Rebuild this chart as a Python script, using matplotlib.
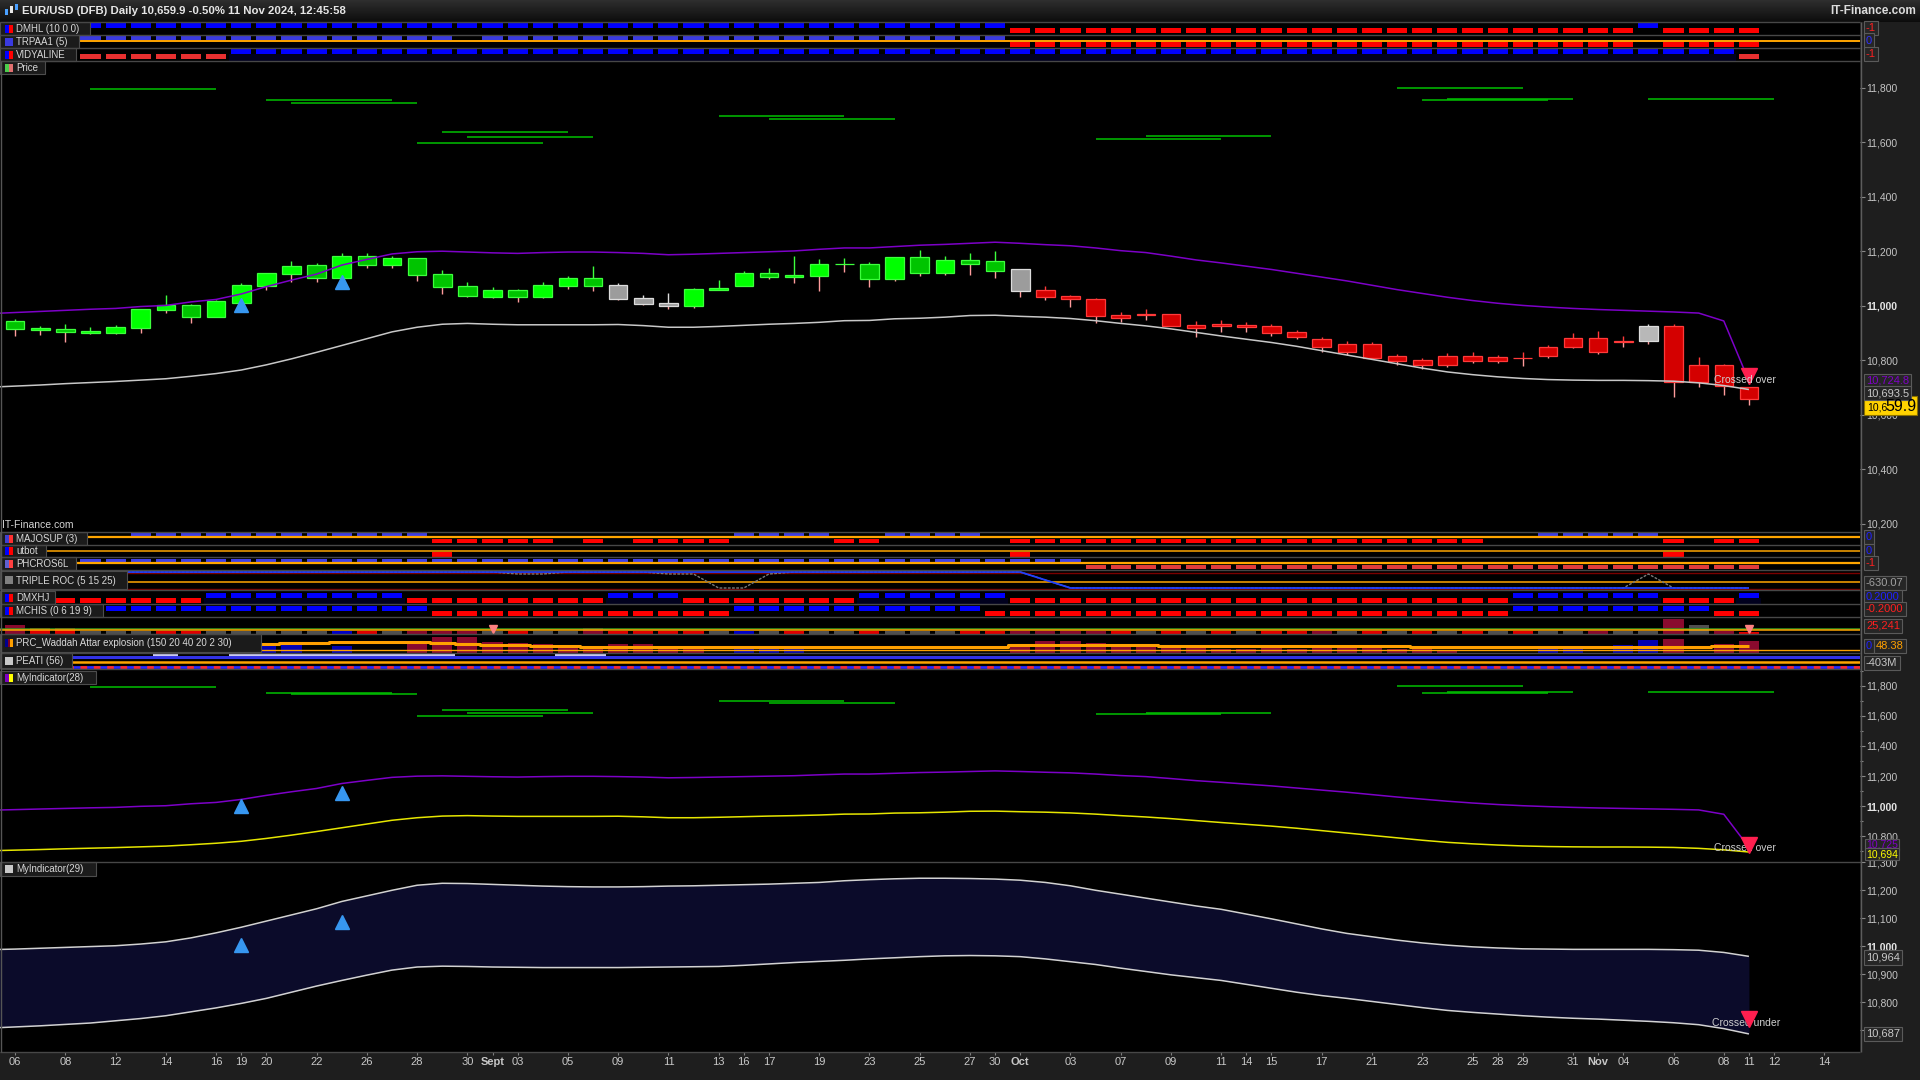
import numpy as np
import matplotlib
matplotlib.use("Agg")
import matplotlib.pyplot as plt
from matplotlib.patches import Rectangle
from matplotlib import font_manager

W, H = 1920, 1080
PLOT_R = 1860            # right edge of the plotting area (px)
XLIM = (-0.6, 73.42)     # bar index range, room to the right up to 14 Nov

NAMES = {f.name for f in font_manager.fontManager.ttflist}
NARROW = "Liberation Sans Narrow" if "Liberation Sans Narrow" in NAMES else "Liberation Sans"
plt.rcParams["font.family"] = ["Liberation Sans", "DejaVu Sans"]
plt.rcParams["lines.solid_capstyle"] = "butt"

# ---- price data (EUR/USD DFB daily, 6 Aug .. 11 Nov 2024) ----------------
opens = [10945, 10913, 10916, 10902, 10902, 10921, 10987, 11004, 10961, 11012,
         11075, 11119, 11150, 11104, 11183, 11152, 11175, 11117, 11073, 11034,
         11059, 11034, 11075, 11103, 11076, 11028, 11011, 11001, 11060, 11075,
         11121, 11108, 11111, 11153, 11154, 11100, 11180, 11122, 11169, 11165,
         11136, 11059, 11035, 11024, 10966, 10968, 10969, 10929, 10935, 10930,
         10928, 10905, 10880, 10830, 10862, 10815, 10800, 10782, 10815, 10797,
         10810, 10815, 10850, 10882, 10866, 10872, 10928, 10720, 10783, 10702]
highs = [10951, 10927, 10934, 10923, 10930, 10990, 11040, 11007, 11022, 11083,
         11121, 11165, 11158, 11195, 11195, 11183, 11175, 11132, 11088, 11069,
         11062, 11087, 11110, 11147, 11086, 11040, 11048, 11067, 11095, 11128,
         11141, 11183, 11173, 11176, 11162, 11180, 11205, 11183, 11195, 11202,
         11136, 11075, 11040, 11028, 10978, 10989, 10969, 10945, 10950, 10940,
         10935, 10912, 10885, 10870, 10868, 10825, 10808, 10828, 10830, 10820,
         10830, 10858, 10900, 10908, 10890, 10935, 10935, 10812, 10787, 10702]
lows = [10890, 10894, 10869, 10898, 10897, 10902, 10976, 10939, 10961, 11010,
        11059, 11089, 11089, 11104, 11141, 11141, 11092, 11045, 11034, 11030,
        11016, 11030, 11064, 11056, 11022, 11004, 10989, 10994, 11060, 11075,
        11100, 11086, 11056, 11126, 11071, 11093, 11111, 11115, 11115, 11104,
        11034, 11022, 10998, 10939, 10943, 10949, 10925, 10887, 10905, 10905,
        10890, 10878, 10830, 10820, 10805, 10785, 10770, 10775, 10790, 10790,
        10780, 10808, 10845, 10822, 10850, 10860, 10667, 10704, 10673, 10638]
closes = [10917, 10919, 10906, 10910, 10923, 10989, 11004, 10961, 11018, 11077,
          11121, 11147, 11104, 11183, 11152, 11176, 11115, 11071, 11038, 11059,
          11034, 11077, 11103, 11075, 11027, 11009, 11001, 11062, 11066, 11121,
          11108, 11114, 11154, 11155, 11100, 11180, 11122, 11169, 11155, 11130,
          11056, 11034, 11024, 10965, 10957, 10970, 10928, 10920, 10925, 10922,
          10901, 10888, 10848, 10862, 10810, 10798, 10782, 10818, 10797, 10812,
          10808, 10850, 10882, 10830, 10872, 10925, 10720, 10783, 10706, 10659.9]
# candle colouring by trend: g = green, x = grey, r = red
tone = "g" * 24 + "x" * 3 + "g" * 13 + "x" + "r" * 24 + "x" + "r" * 4

# band lines start one bar earlier (5 Aug, at the left edge of the chart)
upper_band = [10972,
              10976, 10980, 10984, 10988, 10991, 10998, 11002, 11015, 11024, 11044,
              11071, 11095, 11117, 11150, 11171, 11191, 11199, 11201, 11198, 11195,
              11193, 11196, 11198, 11198, 11196, 11193, 11188, 11190, 11193, 11196,
              11199, 11202, 11208, 11213, 11213, 11218, 11223, 11226, 11230, 11234,
              11230, 11225, 11221, 11213, 11203, 11196, 11183, 11169, 11158, 11146,
              11134, 11120, 11106, 11092, 11076, 11060, 11046, 11032, 11020, 11010,
              11002, 10996, 10991, 10987, 10984, 10981, 10978, 10974, 10945, 10724.8]
lower_band = [10702,
              10706, 10710, 10715, 10719, 10723, 10728, 10733, 10742, 10752, 10765,
              10784, 10806, 10830, 10855, 10880, 10905, 10922, 10933, 10936, 10933,
              10931, 10931, 10931, 10931, 10932, 10928, 10922, 10922, 10925, 10929,
              10933, 10936, 10940, 10946, 10947, 10953, 10955, 10959, 10965, 10966,
              10962, 10959, 10954, 10946, 10936, 10927, 10916, 10903, 10890, 10878,
              10866, 10852, 10836, 10820, 10804, 10788, 10772, 10758, 10748, 10740,
              10734, 10730, 10728, 10727, 10727, 10726, 10724, 10718, 10708, 10693.5]
band29_up = [10988,
             10990, 10993, 10996, 10999, 11002, 11008, 11016, 11030, 11048, 11068,
             11090, 11112, 11134, 11160, 11180, 11200, 11218, 11225, 11224, 11221,
             11218, 11215, 11213, 11212, 11212, 11213, 11215, 11216, 11218, 11220,
             11222, 11225, 11228, 11234, 11238, 11241, 11243, 11243, 11242, 11240,
             11236, 11228, 11216, 11200, 11186, 11172, 11158, 11144, 11132, 11115,
             11098, 11080, 11062, 11046, 11034, 11022, 11012, 11004, 10998, 10994,
             10991, 10990, 10989, 10989, 10989, 10989, 10988, 10986, 10978, 10964]
band29_lo = [10708,
             10712, 10716, 10721, 10726, 10734, 10742, 10752, 10766, 10780, 10796,
             10814, 10836, 10858, 10878, 10897, 10915, 10926, 10929, 10928, 10926,
             10925, 10924, 10924, 10924, 10924, 10925, 10926, 10927, 10928, 10932,
             10937, 10942, 10946, 10950, 10955, 10959, 10963, 10966, 10967, 10966,
             10963, 10955, 10945, 10935, 10922, 10910, 10898, 10888, 10878, 10864,
             10850, 10836, 10824, 10814, 10803, 10792, 10781, 10771, 10764, 10758,
             10752, 10747, 10743, 10740, 10736, 10732, 10727, 10720, 10706, 10687]

# green resistance segments: first bar and level (each spans 5 bars)
green_start = [3, 10, 11, 16, 17, 18, 28, 30, 43, 45, 55, 56, 57, 65]
green_level = [11795, 11755, 11745, 11598, 11638, 11620, 11697, 11686,
               11611, 11622, 11800, 11755, 11760, 11760]
arrow_up_idx = [9, 13]
arrow_up_val = [11003, 11088]
arrow_dn_idx = [69]
arrow_dn_val = [10742]

# ---- indicator states: B = blue/up, R = red/down, . = none ----------------
dmhl = "B" * 40 + "R" * 25 + "B" + "R" * 4
trpaa1 = "B" * 18 + "." + "B" * 21 + "R" * 25 + "." + "R" * 4
vidyaline = "R" * 9 + "B" * 60 + "R"
majosup = ("." * 5 + "B" * 12 + "R" * 5 + "." + "R" + "." + "R" * 4 + "B" * 4 + "R" * 2
           + "B" * 4 + "." + "R" * 19 + "." * 2 + "B" * 5 + "R" + "." + "R" * 2)
utbot = "." * 17 + "R" + "." * 22 + "R" + "." * 25 + "R" + "." * 3
phcros6l = "B" * 43 + "R" * 27
dmxhj = "R" * 8 + "B" * 8 + "R" * 8 + "B" * 3 + "R" * 7 + "B" * 6 + "R" * 20 + "B" * 6 + "R" * 3 + "B"
mchis = "B" * 17 + "R" * 12 + "B" * 10 + "R" * 21 + "B" * 8 + "R" * 2

# TRIPLE ROC lines (panel units)
tri_blue = [18] * 41 + [10] + [2] * 28
tri_gray = [18] * 20 + [16, 16] + [18] * 4 + [16, 16, 2, 2, 16] + [18] * 10 + [10] + [2] * 23 + [16] + [2] * 4

# unnamed histogram panel
hist_c = "drrgggrrgg" "gggbrgdddg" "rggdrrrrgb" "grggrgggrr" "ddddrgrgrg" "rrdgrgrgrg" "rggdggdgdr"
hist_h = [9, 6, 6, 3, 3, 3, 3, 3, 3, 3, 3, 3, 3, 3, 3, 3, 3, 3, 3, 3,
          3, 3, 3, 6, 3, 3, 3, 3, 3, 3, 3, 3, 3, 3, 3, 3, 3, 3, 3, 3,
          3, 3, 3, 3, 3, 3, 3, 3, 3, 3, 3, 3, 3, 3, 3, 3, 3, 3, 3, 3,
          3, 3, 3, 3, 3, 3, 15, 9, 3, 2]
hist_mark_idx = [19, 69]

# Waddah Attar explosion
wae_up = [0, 0, 0, 0, 0, 0, 0, 0, 0, 0, 7, 8, 0, 7, 0, 0, 0, 0, 0, 0,
          0, 0, 0, 0, 0, 0, 0, 0, 0, 4, 5, 4, 0, 0, 0, 0, 0, 0, 0, 0,
          0, 0, 0, 0, 0, 0, 0, 0, 0, 0, 0, 0, 0, 0, 0, 0, 0, 0, 0, 0,
          0, 4, 5, 0, 8, 13, 0, 0, 0, 0]
wae_dn = [0, 0, 0, 0, 0, 0, 0, 0, 0, 0, 0, 0, 0, 0, 0, 0, 10, 16, 16, 11,
          10, 9, 5, 5, 9, 9, 6, 5, 0, 0, 0, 0, 0, 0, 0, 0, 0, 0, 0, 0,
          8, 12, 12, 10, 8, 6, 5, 5, 4, 4, 5, 4, 6, 5, 5, 4, 4, 3, 0, 0,
          0, 0, 0, 0, 0, 0, 14, 0, 9, 12]
wae_line = [9, 9, 9, 9, 9, 9, 9, 9, 9, 9, 9, 10, 10, 11, 11, 11, 11, 10, 9, 8,
            8, 7, 7, 6, 6, 6, 6, 6, 6, 6, 6, 6, 6, 6, 6, 6, 6, 6, 6, 6,
            8, 8, 8, 8, 8, 8, 7, 7, 7, 7, 7, 7, 7, 7, 7, 7, 6, 6, 6, 6,
            6, 6, 6, 6, 6, 6, 6, 6, 7, 7]
peati_lite = [6, 9, 10, 11, 12, 13, 14, 15, 16, 17, 22, 23]

# x axis
xtick_idx = [0, 2, 4, 6, 8, 9, 10, 12, 14, 16, 18, 19, 20, 22, 24, 26, 28, 29, 30, 32,
             34, 36, 38, 39, 40, 42, 44, 46, 48, 49, 50, 52, 54, 56, 58, 59, 60, 62, 63, 64,
             66, 68, 69, 70, 72]
xtick_lbl = ["06", "08", "12", "14", "16", "19", "20", "22", "26", "28",
             "30", "Sept", "03", "05", "09", "11", "13", "16", "17", "19",
             "23", "25", "27", "30", "Oct", "03", "07", "09", "11", "14",
             "15", "17", "21", "23", "25", "28", "29", "31", "Nov", "04",
             "06", "08", "11", "12", "14"]

x = np.arange(len(closes))
xb = np.arange(-1, len(closes))     # x for the band lines

fig = plt.figure(figsize=(W / 100, H / 100), dpi=100, facecolor="black")

# background: header gradient, right scale strip, bottom date strip
bg = fig.add_axes([0, 0, 1, 1], zorder=-5)
bg.imshow(np.linspace(0.18, 0.05, 22)[:, None], extent=(0, W, 22, 0),
          cmap="gray", vmin=0, vmax=1, aspect="auto")
bg.add_patch(Rectangle((PLOT_R, 22), W - PLOT_R, H - 22, fc="#1e1e1e", ec="none"))
bg.add_patch(Rectangle((0, 1052), PLOT_R, H - 1052, fc="#1e1e1e", ec="none"))
bg.set_xlim(0, W)
bg.set_ylim(H, 0)
bg.axis("off")


def panel(top, bottom, ylim):
    ax = fig.add_axes([0, 1 - bottom / H, PLOT_R / W, (bottom - top) / H])
    ax.set_facecolor("black")
    ax.set_xlim(*XLIM)
    ax.set_ylim(*ylim)
    for s in ax.spines.values():
        s.set_visible(False)
    ax.set_xticks([])
    ax.set_yticks([])
    return ax


def state_row(ax, states, up_span, dn_span, up_color, dn_color, navy=None):
    xu = [i for i, s in enumerate(states) if s == "B"]
    xd = [i for i, s in enumerate(states) if s == "R"]
    if navy:
        ax.bar(xu, navy[1] - navy[0], bottom=navy[0], width=1.0, color="#00001e")
    ax.bar(xu, up_span[1] - up_span[0], bottom=up_span[0], width=0.8, color=up_color)
    ax.bar(xd, dn_span[1] - dn_span[0], bottom=dn_span[0], width=0.8, color=dn_color)


def right_ticks(ax, major, minor=None):
    ax.yaxis.tick_right()
    ax.set_yticks(major, [f"{v:,}" for v in major])
    if minor is not None:
        ax.set_yticks(minor, minor=True)
    ax.tick_params(axis="y", which="both", right=True, left=False, labelright=True,
                   labelleft=False, colors="#8a8a8a", labelcolor="#c4c4c4",
                   length=3.5, pad=1, labelsize=7.5, width=0.8)
    ax.tick_params(axis="y", which="minor", length=2)
    for lab in ax.get_yticklabels():
        if lab.get_text() == "11,000":
            lab.set_fontweight("bold")
            lab.set_color("#e4e4e4")


# ---- top state rows ----
ax = panel(22, 35, (0, 13))
state_row(ax, dmhl, (7.3, 12), (2, 7), "#0000ff", "#ff0000")
ax = panel(35, 48, (0, 13))
state_row(ax, trpaa1, (8, 12.3), (1.3, 6), "#3a3ae0", "#ff0000")
ax.axhline(7.3, color="#ffa500", lw=1.4)
ax = panel(48, 61, (0, 13))
state_row(ax, vidyaline, (7.3, 12), (1.7, 7), "#0000ff", "#e83030", navy=(0.5, 7.3))

# ---- price panel ----
price = panel(61, 532, (10170.6, 11899))
o, h, l, c = (np.array(v, dtype=float) for v in (opens, highs, lows, closes))
fills, edges = [], []
for t, oo, cc in zip(tone, o, c):
    up = cc >= oo
    if t == "g":
        fills.append("#00ff00" if up else "#00c400")
        edges.append("#3dff3d")
    elif t == "x":
        fills.append("#b8b8b8" if up else "#9c9c9c")
        edges.append("#dcdcdc")
    else:
        fills.append("#d40000")
        edges.append("#ff3a3a")
body_lo = np.minimum(o, c)
body_hi = np.maximum(o, c)
price.vlines(x, body_hi, h, colors=edges, lw=1, zorder=2)
price.vlines(x, l, body_lo, colors="#ff9c9c", lw=1, zorder=2)
price.bar(x, np.maximum(body_hi - body_lo, 1.5), bottom=body_lo, width=0.74,
          color=fills, edgecolor=edges, linewidth=0.9, zorder=3)
price.hlines(green_level, green_start, np.add(green_start, 5), colors="#00c000", lw=1.1)
price.plot(xb, upper_band, color="#7d00c8", lw=1.1, zorder=4)
price.plot(xb, lower_band, color="#c8c8c8", lw=1.1, zorder=4)
price.plot(arrow_up_idx, arrow_up_val, "^", color="#3797f0", ms=9.5, zorder=6)
price.plot(arrow_dn_idx, arrow_dn_val, "v", color="#ff1f4f", ms=11, zorder=6)
price.annotate("Crossed over", (arrow_dn_idx[0], arrow_dn_val[0]), xytext=(-25.5, -2.5),
               textcoords="offset points", color="#d0d0d0", fontsize=7.5,
               ha="left", va="center", zorder=7)
right_ticks(price, list(range(10200, 11801, 200)))

# ---- middle indicator rows ----
ax = panel(532, 545, (0, 13))
state_row(ax, majosup, (8.3, 11.7), (2, 6), "#3c3ce6", "#ff0000")
ax.axhline(7.7, color="#ffa500", lw=1.6)
ax = panel(545, 557, (0, 12))
state_row(ax, utbot, (6.5, 11), (0, 5), "#0000ff", "#ff0000")
ax.axhline(5.7, color="#ffa500", lw=1.1)
ax = panel(557, 570, (0, 13))
state_row(ax, phcros6l, (7.7, 11), (0.7, 5), "#4040e8", "#e03c3c")
ax.axhline(6.7, color="#ffa500", lw=1.6)

tri = panel(570, 590, (0, 20))
tri.axhline(17, color="#7a0000", lw=1)
tri.axhline(1, color="#7a0000", lw=1)
tri.axhline(8.3, color="#ffa500", lw=1.1)
tri.plot(x, tri_gray, color="#7a7a7a", lw=1, ls=(0, (2, 1)))
tri.plot(x, tri_blue, color="#2040ff", lw=1.3)

ax = panel(590, 604, (0, 14))
state_row(ax, dmxhj, (6.3, 10.7), (0.7, 5.7), "#0000ff", "#ff0000", navy=(0, 6.3))
ax = panel(604, 617, (0, 13))
state_row(ax, mchis, (6, 11), (1, 6), "#0000ff", "#ff0000")

hist = panel(617, 634, (0, 17))
hist_colors = {"d": "#8a0a2e", "r": "#e00000", "g": "#505050", "b": "#0000c8"}
hist.bar(x, hist_h, width=0.8, color=[hist_colors[k] for k in hist_c])
hist.axhline(5, color="#3c9a1e", lw=1.1)
hist.axhline(4, color="#ffa500", lw=1.1)
hist.plot(hist_mark_idx, [5] * len(hist_mark_idx), "v", color="#ff8080", ms=6)

wae = panel(634, 653, (0, 19))
wae.bar(x, wae_dn, width=0.8, color="#8a0a2e")
wae.bar(x, wae_up, width=0.8, color="#0000b4")
wae.plot(x, wae_line, color="#ffa000", lw=2.2, drawstyle="steps-mid")
wae.axhline(3, color="#ffa000", lw=1)

peati = panel(653, 669, (0, 16))
peati.axhline(12.5, color="#3232e6", lw=2.2)
peati.hlines([14] * len(peati_lite), np.array(peati_lite) - 0.5,
             np.array(peati_lite) + 0.5, colors="#c8c8f0", lw=1.5)
peati.axhline(7.3, color="#ffa500", lw=1.8)
peati.axhline(2.5, color="#2a2aff", lw=2)
peati.axhline(2.5, color="#ff2a2a", lw=2, ls=(0, (2.4, 2.4)))

# ---- MyIndicator(28) ----
m28 = panel(669, 862, (10627, 11913))
m28.hlines(green_level, green_start, np.add(green_start, 5), colors="#00c000", lw=1.1)
m28.plot(xb, upper_band, color="#7d00c8", lw=1.1)
m28.plot(xb, lower_band, color="#e6e600", lw=1.1)
m28.plot(arrow_up_idx, arrow_up_val, "^", color="#3797f0", ms=9.5, zorder=6)
m28.plot(arrow_dn_idx, arrow_dn_val, "v", color="#ff1f4f", ms=11, zorder=6)
m28.annotate("Crossed over", (arrow_dn_idx[0], arrow_dn_val[0]), xytext=(-25.5, -2),
             textcoords="offset points", color="#d0d0d0", fontsize=7.5,
             ha="left", va="center")
right_ticks(m28, list(range(10800, 11801, 200)), list(range(10700, 11901, 100)))

# ---- MyIndicator(29) ----
m29 = panel(862, 1052, (10622.5, 11301))
m29.fill_between(xb, band29_lo, band29_up, color="#0b0b2a", lw=0)
m29.plot(xb, band29_up, color="#d2d2d2", lw=1.1)
m29.plot(xb, band29_lo, color="#d2d2d2", lw=1.1)
m29.plot(arrow_up_idx, arrow_up_val, "^", color="#3797f0", ms=9.5, zorder=6)
m29.plot(arrow_dn_idx, arrow_dn_val, "v", color="#ff1f4f", ms=11, zorder=6)
m29.annotate("Crossed under", (arrow_dn_idx[0], arrow_dn_val[0]), xytext=(-26.5, -3),
             textcoords="offset points", color="#d0d0d0", fontsize=7.5,
             ha="left", va="center")
right_ticks(m29, list(range(10700, 11301, 100)))
m29.set_xticks(xtick_idx, xtick_lbl)
m29.tick_params(axis="x", bottom=True, length=2.5, pad=0.8, colors="#808080",
                labelcolor="#c8c8c8", labelsize=8)
for lab in m29.get_xticklabels():
    lab.set_fontfamily([NARROW, "DejaVu Sans"])
    if lab.get_text() in ("Sept", "Oct", "Nov"):
        lab.set_fontweight("bold")

# ---- overlay: header, separators, tags, value boxes ----
ov = fig.add_axes([0, 0, 1, 1], zorder=10)
ov.set_xlim(0, W)
ov.set_ylim(H, 0)
ov.axis("off")
ov.patch.set_visible(False)


def py(ax, v):
    return H - ax.transData.transform((0, v))[1]


ov.add_patch(Rectangle((5, 9), 3, 6, fc="#4aa0ff", ec="none"))
ov.add_patch(Rectangle((10, 6), 3, 7, fc="#e8e8e8", ec="none"))
ov.add_patch(Rectangle((15, 4), 3, 6, fc="#4aa0ff", ec="none"))
ov.text(22, 11.5, "EUR/USD (DFB) Daily 10,659.9 -0.50% 11 Nov 2024, 12:45:58",
        color="#e6e6e6", fontsize=8.2, fontweight="bold", va="center", ha="left")
ov.text(1916, 11.5, "IT-Finance.com", color="#dcdcdc", fontsize=8.5,
        fontweight="bold", va="center", ha="right")
ov.text(2, 524.5, "IT-Finance.com", color="#d4d4d4", fontsize=7.5, va="center", ha="left")

ov.hlines([21.5, 34.5, 47.5, 60.5, 531.5, 544.5, 556.5, 569.5, 589.5, 603.5, 616.5,
           633.5, 652.5, 668.5, 861.5, 1051.5], 0, PLOT_R, colors="#474747", lw=1)
ov.vlines(PLOT_R + 0.5, 22, 1052, colors="#5c5c5c", lw=1)
ov.vlines(0.5, 61, 1052, colors="#555555", lw=1)

tags = [
    ("DMHL (10 0 0)", 22, 35, 90, ["#0000ff", "#ff0000"]),
    ("TRPAA1 (5)", 35, 48, 79, ["#3a3ae0"]),
    ("VIDYALINE", 48, 61, 76, ["#0000ff", "#ff0000"]),
    ("Price", 61, 74, 45, ["#4ccd4c", "#e07070"]),
    ("MAJOSUP (3)", 532, 545, 87, ["#4040d0", "#ff3030"]),
    ("utbot", 545, 557, 46, ["#0000ff", "#ff0000"]),
    ("PHCROS6L", 557, 570, 76, ["#6060d0", "#ff4040"]),
    ("TRIPLE ROC (5 15 25)", 571, 589, 127, ["#808080"]),
    ("DMXHJ", 591, 604, 55, ["#0000ff", "#ff0000"]),
    ("MCHIS (0 6 19 9)", 604, 617, 103, ["#0000ff", "#ff0000"]),
    ("PRC_Waddah Attar explosion (150 20 40 20 2 30)", 634, 652, 261,
     ["#000090", "#800020", "#ffa000"]),
    ("PEATI (56)", 653, 668, 72, ["#c8c8c8"]),
    ("MyIndicator(28)", 671, 684, 96, ["#8000c0", "#ffff00"]),
    ("MyIndicator(29)", 862, 876, 96, ["#c8c8c8"]),
]
for text, y0, y1, w, cols in tags:
    ov.add_patch(Rectangle((0, y0), w, y1 - y0, fc="#1b1b1b", ec="#4d4d4d", lw=0.8))
    ym = (y0 + y1) / 2
    cw = 8 / len(cols)
    for k, col in enumerate(cols):
        ov.add_patch(Rectangle((5 + k * cw, ym - 4), cw, 8, fc=col, ec="none"))
    ov.text(16, ym + 0.5, text, color="#d8d8d8", fontsize=7, va="center", ha="left")

box = dict(boxstyle="square,pad=0.2", fc="#262626", ec="#5a5a5a", lw=0.8)
small_box = dict(boxstyle="square,pad=0.12", fc="#262626", ec="#5a5a5a", lw=0.8)
right_tags = [("-1", 28, "#ff2020"), ("0", 40.5, "#3030ff"), ("-1", 54, "#ff2020"),
              ("0", 537, "#2020ff"), ("0", 551, "#2020ff"), ("-1", 563, "#ff2020"),
              ("-630.07", 583, "#a0a0a0"), ("0.2000", 597, "#2020ff"),
              ("-0.2000", 609, "#ff2020"), ("25,241", 626, "#ff2020"),
              ("0", 646, "#2020ff"), ("-403M", 663, "#c8c8c8")]
for text, y, col in right_tags:
    ov.text(1866, y, text, color=col, fontsize=8, va="center", ha="left", bbox=box)
ov.text(1876, 646, "48.38", color="#ffa000", fontsize=8, va="center", ha="left", bbox=box)

# last-value boxes on the price scale
ov.text(1866, py(price, upper_band[-1]), f"{upper_band[-1]:,.1f}", color="#8000c8",
        fontsize=8, va="center", ha="left", bbox=box)
ov.text(1866, py(price, lower_band[-1]) + 3.5, f"{lower_band[-1]:,.1f}", color="#c8c8c8",
        fontsize=8, va="center", ha="left", bbox=box)
yc = py(price, closes[-1]) + 7
last = f"{closes[-1]:,.1f}"
ov.add_patch(Rectangle((1864, yc - 9.5), 53, 19, fc="#ffd200", ec="#8a7000", lw=0.8))
ov.text(1867, yc + 5, last[:4], color="black", fontsize=7.5, va="baseline", ha="left")
ov.text(1885, yc + 5, last[4:], color="black", fontsize=11.5, va="baseline", ha="left")

ov.text(1866, py(m28, upper_band[-1]) - 2.5, f"{upper_band[-1]:,.0f}", color="#8000c8",
        fontsize=7.5, va="center", ha="left", bbox=small_box)
ov.text(1866, py(m28, lower_band[-1]) + 2, f"{lower_band[-1]:,.0f}", color="#ffff00",
        fontsize=7.5, va="center", ha="left", bbox=small_box)
ov.text(1866, py(m29, band29_up[-1]) + 1, f"{band29_up[-1]:,}", color="#c8c8c8",
        fontsize=8, va="center", ha="left", bbox=box)
ov.text(1866, py(m29, band29_lo[-1]), f"{band29_lo[-1]:,}", color="#c8c8c8",
        fontsize=8, va="center", ha="left", bbox=box)

fig.savefig("out.png", dpi=100, facecolor="black")
